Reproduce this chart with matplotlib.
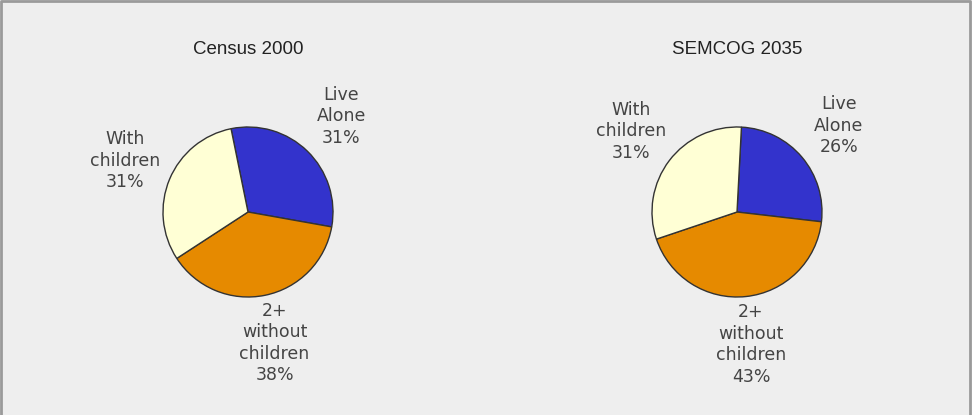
import matplotlib.pyplot as plt
from matplotlib.patches import Rectangle

# 数据
categories = ['Live\nAlone', '2+\nwithout\nchildren', 'With\nchildren']
census_2000 = [31, 38, 31]
semcog_2035 = [26, 43, 31]
titles = ['Census 2000', 'SEMCOG 2035']
colors = ['#3333cc', '#e68a00', '#ffffd5']

W, H = 972, 415
fig = plt.figure(figsize=(W / 100, H / 100), dpi=100)
fig.patch.set_facecolor('#eeeeee')

# 外框（上、左、右）
fig.add_artist(plt.Line2D([1 / W, 1 / W, 1 - 2 / W, 1 - 2 / W], [0, 1 - 1 / H, 1 - 1 / H, 0],
                          transform=fig.transFigure, color='#9a9a9a', lw=2))

R = 85  # 饼图半径（像素）
centers = [(248, 212), (737, 212)]
starts = [101.5, 87]

for (cx, cy), vals, title, st in zip(centers, [census_2000, semcog_2035], titles, starts):
    ax = fig.add_axes([(cx - R) / W, (H - cy - R) / H, 2 * R / W, 2 * R / H])
    labels = [f'{c}\n{v}%' for c, v in zip(categories, vals)]
    ax.pie(vals, labels=labels, colors=colors, startangle=st, counterclock=False,
           labeldistance=1.57,
           wedgeprops=dict(edgecolor='#333333', linewidth=1),
           textprops=dict(ha='center', va='center', multialignment='center',
                          fontsize=12.5, color='#444444', family='DejaVu Sans',
                          linespacing=1.25))
    ax.set_xlim(-1, 1)
    ax.set_ylim(-1, 1)
    ax.set_aspect('equal')
    ax.axis('off')
    fig.text(cx / W, 1 - 50 / H, title, ha='center', va='center',
             fontsize=13.5, family='Liberation Sans', color='#222222')

plt.savefig('out.png', dpi=100, facecolor=fig.get_facecolor())
